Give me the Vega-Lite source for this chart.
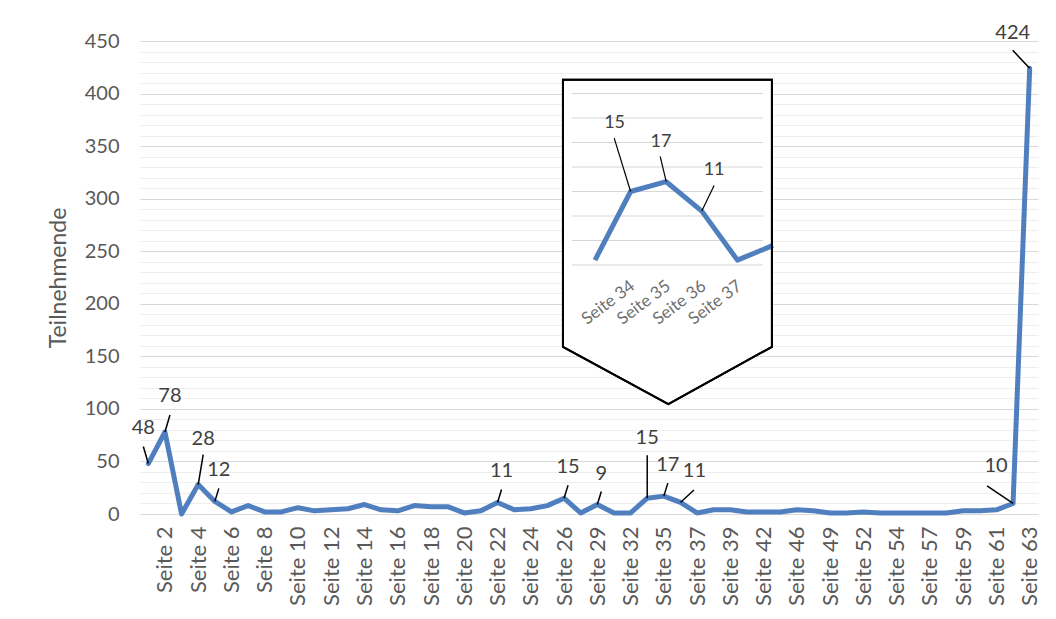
{
  "$schema": "https://vega.github.io/schema/vega-lite/v6.json",
  "width": 898,
  "height": 473,
  "autosize": {"type": "none"},
  "padding": {"left": 140, "top": 41, "right": 18, "bottom": 105},
  "background": "white",
  "config": {
    "font": "Lato",
    "view": {"stroke": null},
    "text": {"font": "Lato"},
    "axisY": {"titleFontSize": 23, "titleFont": "Lato", "titleColor": "#595959", "titleFontWeight": "normal"}
  },
  "datasets": {
    "pages": [
      {"seite": "Seite 1", "n": 48}, {"seite": "Seite 2", "n": 78}, {"seite": "Seite 3", "n": 0},
      {"seite": "Seite 4", "n": 28}, {"seite": "Seite 5", "n": 12}, {"seite": "Seite 6", "n": 2},
      {"seite": "Seite 7", "n": 8}, {"seite": "Seite 8", "n": 2}, {"seite": "Seite 9", "n": 2},
      {"seite": "Seite 10", "n": 6}, {"seite": "Seite 11", "n": 3}, {"seite": "Seite 12", "n": 4},
      {"seite": "Seite 13", "n": 5}, {"seite": "Seite 14", "n": 9}, {"seite": "Seite 15", "n": 4},
      {"seite": "Seite 16", "n": 3}, {"seite": "Seite 17", "n": 8}, {"seite": "Seite 18", "n": 7},
      {"seite": "Seite 19", "n": 7}, {"seite": "Seite 20", "n": 1}, {"seite": "Seite 21", "n": 3},
      {"seite": "Seite 22", "n": 11}, {"seite": "Seite 23", "n": 4}, {"seite": "Seite 24", "n": 5},
      {"seite": "Seite 25", "n": 8}, {"seite": "Seite 26", "n": 15}, {"seite": "Seite 28", "n": 1},
      {"seite": "Seite 29", "n": 9}, {"seite": "Seite 31", "n": 1}, {"seite": "Seite 32", "n": 1},
      {"seite": "Seite 34", "n": 15}, {"seite": "Seite 35", "n": 17}, {"seite": "Seite 36", "n": 11},
      {"seite": "Seite 37", "n": 1}, {"seite": "Seite 38", "n": 4}, {"seite": "Seite 39", "n": 4},
      {"seite": "Seite 41", "n": 2}, {"seite": "Seite 42", "n": 2}, {"seite": "Seite 44", "n": 2},
      {"seite": "Seite 46", "n": 4}, {"seite": "Seite 48", "n": 3}, {"seite": "Seite 49", "n": 1},
      {"seite": "Seite 51", "n": 1}, {"seite": "Seite 52", "n": 2}, {"seite": "Seite 53", "n": 1},
      {"seite": "Seite 54", "n": 1}, {"seite": "Seite 56", "n": 1}, {"seite": "Seite 57", "n": 1},
      {"seite": "Seite 58", "n": 1}, {"seite": "Seite 59", "n": 3}, {"seite": "Seite 60", "n": 3},
      {"seite": "Seite 61", "n": 4}, {"seite": "Seite 62", "n": 10}, {"seite": "Seite 63", "n": 424}
    ],
    "frame": [
      {"u": -0.9, "top": 37.8, "bot": -16.7},
      {"u": 2.06, "top": 37.8, "bot": -28.4},
      {"u": 4.97, "top": 37.8, "bot": -16.7}
    ],
    "igrid": [
      {"g": 0}, {"g": 5}, {"g": 10}, {"g": 15}, {"g": 20}, {"g": 25}, {"g": 30}, {"g": 35}
    ]
  },
  "layer": [
    {
      "data": {"name": "pages"},
      "encoding": {
        "x": {
          "field": "seite", "type": "ordinal", "sort": null,
          "scale": {"type": "point", "padding": 0.5, "domain": ["Seite 1","Seite 2","Seite 3","Seite 4","Seite 5","Seite 6","Seite 7","Seite 8","Seite 9","Seite 10","Seite 11","Seite 12","Seite 13","Seite 14","Seite 15","Seite 16","Seite 17","Seite 18","Seite 19","Seite 20","Seite 21","Seite 22","Seite 23","Seite 24","Seite 25","Seite 26","Seite 28","Seite 29","Seite 31","Seite 32","Seite 34","Seite 35","Seite 36","Seite 37","Seite 38","Seite 39","Seite 41","Seite 42","Seite 44","Seite 46","Seite 48","Seite 49","Seite 51","Seite 52","Seite 53","Seite 54","Seite 56","Seite 57","Seite 58","Seite 59","Seite 60","Seite 61","Seite 62","Seite 63"]},
          "axis": {
            "values": ["Seite 2","Seite 4","Seite 6","Seite 8","Seite 10","Seite 12","Seite 14","Seite 16","Seite 18","Seite 20","Seite 22","Seite 24","Seite 26","Seite 29","Seite 32","Seite 35","Seite 37","Seite 39","Seite 42","Seite 46","Seite 49","Seite 52","Seite 54","Seite 57","Seite 59","Seite 61","Seite 63"],
            "labelAngle": 270, "labelPadding": 12, "ticks": false, "grid": false,
            "domainColor": "#d9d9d9", "domainWidth": 1,
            "labelFontSize": 22, "labelColor": "#595959", "labelOverlap": false, "title": null
          }
        },
        "y": {
          "field": "n", "type": "quantitative",
          "scale": {"domain": [0, 450], "nice": false},
          "axis": {
            "values": [0,10,20,30,40,50,60,70,80,90,100,110,120,130,140,150,160,170,180,190,200,210,220,230,240,250,260,270,280,290,300,310,320,330,340,350,360,370,380,390,400,410,420,430,440,450],
            "labelExpr": "datum.value % 50 === 0 ? datum.label : ''",
            "grid": true,
            "gridColor": {"condition": {"test": "datum.value % 50 === 0", "value": "#d9d9d9"}, "value": "#eeeeee"},
            "domain": false, "ticks": false, "labelPadding": 21, "labelOverlap": false,
            "labelFontSize": 20, "labelColor": "#595959",
            "title": "Teilnehmende", "titleFontSize": 23, "titleColor": "#595959",
            "titleFontWeight": "normal", "titlePadding": 14
          }
        }
      },
      "layer": [
        {"mark": {"type": "line", "color": "#4f7fbf", "strokeWidth": 5, "strokeJoin": "round", "strokeCap": "round"}},
        {
          "transform": [{"filter": {"field": "seite", "oneOf": ["Seite 5", "Seite 22", "Seite 26", "Seite 29", "Seite 35"]}}],
          "layer": [
            {"mark": {"type": "rule", "color": "black", "strokeWidth": 1.5, "x2Offset": 4, "y2Offset": -13}, "encoding": {"x2": {"field": "seite"}, "y2": {"field": "n"}}},
            {"mark": {"type": "text", "dx": 4, "dy": -31, "fontSize": 20, "color": "#404040", "baseline": "middle"}, "encoding": {"text": {"field": "n", "type": "quantitative"}}}
          ]
        },
        {
          "transform": [{"filter": {"field": "seite", "oneOf": ["Seite 2"]}}],
          "layer": [
            {"mark": {"type": "rule", "color": "black", "strokeWidth": 1.5, "x2Offset": 5, "y2Offset": -17}, "encoding": {"x2": {"field": "seite"}, "y2": {"field": "n"}}},
            {"mark": {"type": "text", "dx": 5, "dy": -36, "fontSize": 20, "color": "#404040", "baseline": "middle"}, "encoding": {"text": {"field": "n", "type": "quantitative"}}}
          ]
        },
        {
          "transform": [{"filter": {"field": "seite", "oneOf": ["Seite 1"]}}],
          "layer": [
            {"mark": {"type": "rule", "color": "black", "strokeWidth": 1.5, "x2Offset": -5, "y2Offset": -17}, "encoding": {"x2": {"field": "seite"}, "y2": {"field": "n"}}},
            {"mark": {"type": "text", "dx": -5, "dy": -36, "fontSize": 20, "color": "#404040", "baseline": "middle"}, "encoding": {"text": {"field": "n", "type": "quantitative"}}}
          ]
        },
        {
          "transform": [{"filter": {"field": "seite", "oneOf": ["Seite 4"]}}],
          "layer": [
            {"mark": {"type": "rule", "color": "black", "strokeWidth": 1.5, "x2Offset": 5, "y2Offset": -30}, "encoding": {"x2": {"field": "seite"}, "y2": {"field": "n"}}},
            {"mark": {"type": "text", "dx": 5, "dy": -46, "fontSize": 20, "color": "#404040", "baseline": "middle"}, "encoding": {"text": {"field": "n", "type": "quantitative"}}}
          ]
        },
        {
          "transform": [{"filter": {"field": "seite", "oneOf": ["Seite 34"]}}],
          "layer": [
            {"mark": {"type": "rule", "color": "black", "strokeWidth": 1.5, "x2Offset": 0, "y2Offset": -43}, "encoding": {"x2": {"field": "seite"}, "y2": {"field": "n"}}},
            {"mark": {"type": "text", "dx": 0, "dy": -60, "fontSize": 20, "color": "#404040", "baseline": "middle"}, "encoding": {"text": {"field": "n", "type": "quantitative"}}}
          ]
        },
        {
          "transform": [{"filter": {"field": "seite", "oneOf": ["Seite 36"]}}],
          "layer": [
            {"mark": {"type": "rule", "color": "black", "strokeWidth": 1.5, "x2Offset": 13.5, "y2Offset": -12.5}, "encoding": {"x2": {"field": "seite"}, "y2": {"field": "n"}}},
            {"mark": {"type": "text", "dx": 14, "dy": -31, "fontSize": 20, "color": "#404040", "baseline": "middle"}, "encoding": {"text": {"field": "n", "type": "quantitative"}}}
          ]
        },
        {
          "transform": [{"filter": {"field": "seite", "oneOf": ["Seite 62"]}}],
          "layer": [
            {"mark": {"type": "rule", "color": "black", "strokeWidth": 1.5, "x2Offset": -26, "y2Offset": -17.5}, "encoding": {"x2": {"field": "seite"}, "y2": {"field": "n"}}},
            {"mark": {"type": "text", "dx": -17, "dy": -37, "fontSize": 20, "color": "#404040", "baseline": "middle"}, "encoding": {"text": {"field": "n", "type": "quantitative"}}}
          ]
        },
        {
          "transform": [{"filter": {"field": "seite", "oneOf": ["Seite 63"]}}],
          "layer": [
            {"mark": {"type": "rule", "color": "black", "strokeWidth": 1.5, "x2Offset": -17, "y2Offset": -18}, "encoding": {"x2": {"field": "seite"}, "y2": {"field": "n"}}},
            {"mark": {"type": "text", "dx": -17, "dy": -35, "fontSize": 20, "color": "#404040", "baseline": "middle"}, "encoding": {"text": {"field": "n", "type": "quantitative"}}}
          ]
        }
      ]
    },
    {
      "data": {"name": "frame"},
      "mark": {"type": "area", "orient": "vertical", "fill": "white", "stroke": "black", "strokeWidth": 2},
      "encoding": {
        "x": {"field": "u", "type": "quantitative", "scale": {"domain": [0, 5], "range": [455, 633], "nice": false, "zero": false}, "axis": null},
        "y": {"field": "top", "type": "quantitative", "scale": {"domain": [0, 30], "range": [224, 77], "nice": false, "zero": false}, "axis": null},
        "y2": {"field": "bot"}
      }
    },
    {
      "data": {"name": "igrid"},
      "mark": {"type": "rule", "color": "#d6d6d6", "strokeWidth": 1},
      "encoding": {
        "y": {"field": "g", "type": "quantitative", "scale": {"domain": [0, 30], "range": [224, 77], "nice": false, "zero": false}, "axis": null},
        "x": {"datum": -0.65, "type": "quantitative", "scale": {"domain": [0, 5], "range": [455, 633], "nice": false, "zero": false}, "axis": null},
        "x2": {"datum": 4.72}
      }
    },
    {
      "data": {"name": "pages"},
      "transform": [{"filter": {"field": "seite", "oneOf": ["Seite 32", "Seite 34", "Seite 35", "Seite 36", "Seite 37", "Seite 38"]}}],
      "encoding": {
        "x": {"field": "seite", "type": "ordinal", "sort": null, "scale": {"type": "point", "domain": ["Seite 32", "Seite 34", "Seite 35", "Seite 36", "Seite 37", "Seite 38"], "range": [455, 633], "padding": 0}, "axis": null},
        "y": {"field": "n", "type": "quantitative", "scale": {"domain": [0, 30], "range": [224, 77], "nice": false, "zero": false}, "axis": null}
      },
      "layer": [
        {"mark": {"type": "line", "color": "#4f7fbf", "strokeWidth": 5, "strokeJoin": "round", "strokeCap": "butt"}},
        {
          "transform": [{"filter": {"field": "seite", "oneOf": ["Seite 34"]}}],
          "layer": [
            {"mark": {"type": "rule", "color": "black", "strokeWidth": 1.2, "x2Offset": -16.4, "y2Offset": -53.4}, "encoding": {"x2": {"field": "seite"}, "y2": {"field": "n"}}},
            {"mark": {"type": "text", "dx": -16, "dy": -69, "fontSize": 18, "color": "#404040", "baseline": "middle"}, "encoding": {"text": {"field": "n", "type": "quantitative"}}}
          ]
        },
        {
          "transform": [{"filter": {"field": "seite", "oneOf": ["Seite 35"]}}],
          "layer": [
            {"mark": {"type": "rule", "color": "black", "strokeWidth": 1.2, "x2Offset": -6, "y2Offset": -25.4}, "encoding": {"x2": {"field": "seite"}, "y2": {"field": "n"}}},
            {"mark": {"type": "text", "dx": -5.3, "dy": -39.4, "fontSize": 18, "color": "#404040", "baseline": "middle"}, "encoding": {"text": {"field": "n", "type": "quantitative"}}}
          ]
        },
        {
          "transform": [{"filter": {"field": "seite", "oneOf": ["Seite 36"]}}],
          "layer": [
            {"mark": {"type": "rule", "color": "black", "strokeWidth": 1.2, "x2Offset": 12.3, "y2Offset": -25.7}, "encoding": {"x2": {"field": "seite"}, "y2": {"field": "n"}}},
            {"mark": {"type": "text", "dx": 12.3, "dy": -40.7, "fontSize": 18, "color": "#404040", "baseline": "middle"}, "encoding": {"text": {"field": "n", "type": "quantitative"}}}
          ]
        },
        {
          "transform": [{"filter": {"field": "seite", "oneOf": ["Seite 34", "Seite 35", "Seite 36", "Seite 37"]}}],
          "mark": {"type": "text", "angle": -37, "align": "right", "baseline": "middle", "dx": 3, "fontSize": 17, "color": "#6f6f6f"},
          "encoding": {"text": {"field": "seite"}, "y": {"datum": -4.3}}
        }
      ]
    },
    {
      "data": {"name": "frame"},
      "mark": {"type": "area", "orient": "vertical", "fill": "white", "fillOpacity": 0, "stroke": "black", "strokeWidth": 2},
      "encoding": {
        "x": {"field": "u", "type": "quantitative", "scale": {"domain": [0, 5], "range": [455, 633], "nice": false, "zero": false}, "axis": null},
        "y": {"field": "top", "type": "quantitative", "scale": {"domain": [0, 30], "range": [224, 77], "nice": false, "zero": false}, "axis": null},
        "y2": {"field": "bot"}
      }
    }
  ],
  "resolve": {"scale": {"x": "independent", "y": "independent"}}
}
